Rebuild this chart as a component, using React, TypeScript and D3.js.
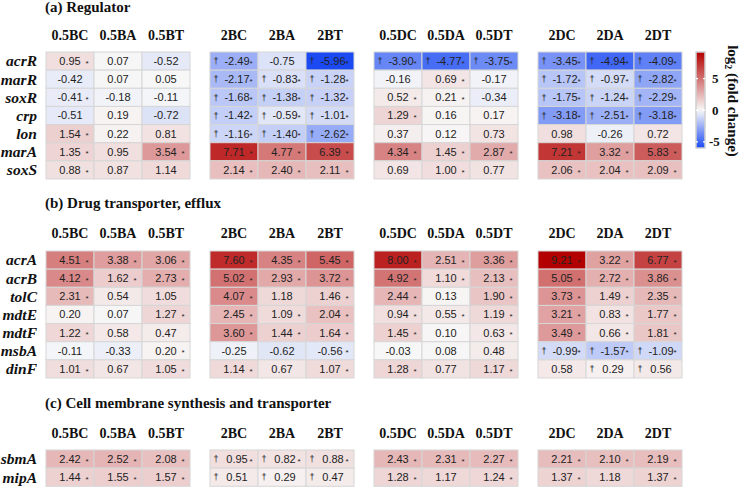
import React from "react";
import * as d3 from "d3";

const columns = ["0.5BC", "0.5BA", "0.5BT", "2BC", "2BA", "2BT", "0.5DC", "0.5DA", "0.5DT", "2DC", "2DA", "2DT"];
const groupNames = ["0.5B", "2B", "0.5D", "2D"];

const regTitle = "(a) Regulator";
const regGenes = ["acrR", "marR", "soxR", "crp", "lon", "marA", "soxS"];
const regValues = [
  [0.95, 0.07, -0.52, -2.49, -0.75, -5.96, -3.9, -4.77, -3.75, -3.45, -4.94, -4.09],
  [-0.42, 0.07, 0.05, -2.17, -0.83, -1.28, -0.16, 0.69, -0.17, -1.72, -0.97, -2.82],
  [-0.41, -0.18, -0.11, -1.68, -1.38, -1.32, 0.52, 0.21, -0.34, -1.75, -1.24, -2.29],
  [-0.51, 0.19, -0.72, -1.42, -0.59, -1.01, 1.29, 0.16, 0.17, -3.18, -2.51, -3.18],
  [1.54, 0.22, 0.81, -1.16, -1.4, -2.62, 0.37, 0.12, 0.73, 0.98, -0.26, 0.72],
  [1.35, 0.95, 3.54, 7.71, 4.77, 6.39, 4.34, 1.45, 2.87, 7.21, 3.32, 5.83],
  [0.88, 0.87, 1.14, 2.14, 2.4, 2.11, 0.69, 1.0, 0.77, 2.06, 2.04, 2.09],
];
// s = significant (*), d = dagger (†), b = both, - = none
const regFlags = [
  "s--b-bbbbbbb",
  "---bbb-s-bbb",
  "s--bbbss-bbb",
  "---bbbs--bbb",
  "s--bbb------",
  "s-ssssssssss",
  "s--sss-s-sss",
];

const drugTitle = "(b) Drug transporter, efflux";
const drugGenes = ["acrA", "acrB", "tolC", "mdtE", "mdtF", "msbA", "dinF"];
const drugValues = [
  [4.51, 3.38, 3.06, 7.6, 4.35, 5.45, 8.0, 2.51, 3.36, 9.21, 3.22, 6.77],
  [4.12, 1.62, 2.73, 5.02, 2.93, 3.72, 4.92, 1.1, 2.13, 5.05, 2.72, 3.86],
  [2.31, 0.54, 1.05, 4.07, 1.18, 1.46, 2.44, 0.13, 1.9, 3.73, 1.49, 2.35],
  [0.2, 0.07, 1.27, 2.45, 1.09, 2.04, 0.94, 0.55, 1.19, 3.21, 0.83, 1.77],
  [1.22, 0.58, 0.47, 3.6, 1.44, 1.64, 1.45, 0.1, 0.63, 3.49, 0.66, 1.81],
  [-0.11, -0.33, 0.2, -0.25, -0.62, -0.56, -0.03, 0.08, 0.48, -0.99, -1.57, -1.09],
  [1.01, 0.67, 1.05, 1.14, 0.67, 1.07, 1.28, 0.77, 1.17, 0.58, 0.29, 0.56],
];
const drugFlags = [
  "ssssssssssss",
  "ssssssssssss",
  "s--s-ss-ssss",
  "--ssssssssss",
  "s--ssss-ssss",
  "--s--s---bbb",
  "s-ss-ss-s-dd",
];

const memTitle = "(c) Cell membrane synthesis and transporter";
const memGenes = ["sbmA", "mipA"];
const memValues = [
  [2.42, 2.52, 2.08, 0.95, 0.82, 0.88, 2.43, 2.31, 2.27, 2.21, 2.1, 2.19],
  [1.44, 1.55, 1.57, 0.51, 0.29, 0.47, 1.28, 1.17, 1.24, 1.37, 1.18, 1.37],
];
const memFlags = ["sssbbbssssss", "sssddds-ss-s"];

const legendTicks = [5, 0, -5];
const legendTitle = "log";
const colorDomain = [-5.96, 0, 9.21];

const W = 740;
const H = 488;

const color = d3
  .scaleLinear<string>()
  .domain(colorDomain)
  .range(["#1b4af3", "#f8f8f8", "#b30000"])
  .interpolate(d3.interpolateRgb);

const groupX = d3.scaleBand<string>().domain(groupNames).range([46, 682]).paddingInner(20 / 164);
const colX = (i: number) => {
  const g = groupNames[Math.floor(i / 3)];
  const inner = d3
    .scaleBand<number>()
    .domain([0, 1, 2])
    .range([groupX(g)!, groupX(g)! + groupX.bandwidth()]);
  return { x: inner(i % 3)!, w: inner.bandwidth() };
};

const serif = "'Liberation Serif', 'Times New Roman', serif";
const sans = "'Liberation Sans', Arial, sans-serif";

type SectionProps = {
  title: string;
  genes: string[];
  values: number[][];
  flags: string[];
  titleY: number;
  headerY: number;
  top: number;
};

function Section({ title, genes, values, flags, titleY, headerY, top }: SectionProps) {
  const rowH = 18.14;
  const y = d3
    .scaleBand<string>()
    .domain(genes)
    .range([top, top + rowH * genes.length]);
  return (
    <g>
      <text x={45} y={titleY} fontFamily={serif} fontWeight="bold" fontSize={15} fill="#111">
        {title}
      </text>
      {columns.map((c, i) => {
        const { x, w } = colX(i);
        return (
          <text key={c} x={x + w / 2} y={headerY} textAnchor="middle" fontFamily={serif} fontWeight="bold" fontSize={14} fill="#111">
            {c}
          </text>
        );
      })}
      {genes.map((gname, r) => (
        <text
          key={gname}
          x={37}
          y={y(gname)! + y.bandwidth() / 2}
          dy="0.35em"
          textAnchor="end"
          fontFamily={serif}
          fontWeight="bold"
          fontStyle="italic"
          fontSize={15.5}
          fill="#111"
        >
          {gname}
        </text>
      ))}
      {genes.map((gname, r) =>
        values[r].map((v, i) => {
          const { x, w } = colX(i);
          const yy = y(gname)!;
          const h = y.bandwidth();
          const f = flags[r][i];
          const star = f === "s" || f === "b";
          const dag = f === "d" || f === "b";
          const cy = yy + h / 2;
          return (
            <g key={gname + i}>
              <rect x={x} y={yy} width={w} height={h} fill={color(v)} stroke="#d6d6d6" strokeWidth={1} />
              <text x={x + w / 2 + (dag ? 3 : 0)} y={cy} dy="0.36em" textAnchor="middle" fontFamily={sans} fontSize={11} fill="#222">
                {v.toFixed(2)}
              </text>
              {dag && (
                <text x={x + 6} y={cy} dy="0.36em" textAnchor="middle" fontFamily={sans} fontSize={9} fill="#222">
                  †
                </text>
              )}
              {star && (
                <text x={x + w - 7} y={cy + 3} dy="0.2em" textAnchor="middle" fontFamily={sans} fontSize={8} fill="#222">
                  *
                </text>
              )}
            </g>
          );
        })
      )}
    </g>
  );
}

function Legend() {
  const x0 = 696;
  const bw = 9;
  const ly = d3.scaleLinear().domain([colorDomain[0], colorDomain[2]]).range([148, 52]);
  const stops = d3.range(0, 1.0001, 0.05).map((t) => {
    const v = colorDomain[0] + t * (colorDomain[2] - colorDomain[0]);
    return { off: t, c: color(v) };
  });
  return (
    <g>
      <defs>
        <linearGradient id="lg" x1="0" y1="1" x2="0" y2="0">
          {stops.map((s, i) => (
            <stop key={i} offset={`${s.off * 100}%`} stopColor={s.c} />
          ))}
        </linearGradient>
      </defs>
      <rect x={x0} y={ly(colorDomain[2])} width={bw} height={ly(colorDomain[0]) - ly(colorDomain[2])} fill="url(#lg)" stroke="#cfcfcf" strokeWidth={1.5} />
      {legendTicks.map((t) => (
        <g key={t}>
          <line x1={x0} x2={x0 + 2} y1={ly(t)} y2={ly(t)} stroke="#fff" strokeWidth={1.2} />
          <line x1={x0 + bw - 2} x2={x0 + bw} y1={ly(t)} y2={ly(t)} stroke="#fff" strokeWidth={1.2} />
          <text x={t < 0 ? 709 : 712} y={ly(t)} dy="0.35em" fontFamily={serif} fontWeight="bold" fontSize={13} fill="#111">
            {t}
          </text>
        </g>
      ))}
      <text transform="translate(728,101) rotate(90)" textAnchor="middle" fontFamily={serif} fontWeight="bold" fontSize={15} fill="#111">
        {legendTitle}
        <tspan fontSize={10} dy={3}>2</tspan>
        <tspan dy={-3}> (fold change)</tspan>
      </text>
    </g>
  );
}

export default function App() {
  return (
    <svg width={W} height={H} style={{ position: "absolute", left: 0, top: 0, background: "#fff" }}>
      <rect width={W} height={H} fill="#fff" />
      <Section title={regTitle} genes={regGenes} values={regValues} flags={regFlags} titleY={12} headerY={40} top={52} />
      <Section title={drugTitle} genes={drugGenes} values={drugValues} flags={drugFlags} titleY={208} headerY={238} top={251} />
      <Section title={memTitle} genes={memGenes} values={memValues} flags={memFlags} titleY={408} headerY={438} top={450} />
      <Legend />
    </svg>
  );
}
